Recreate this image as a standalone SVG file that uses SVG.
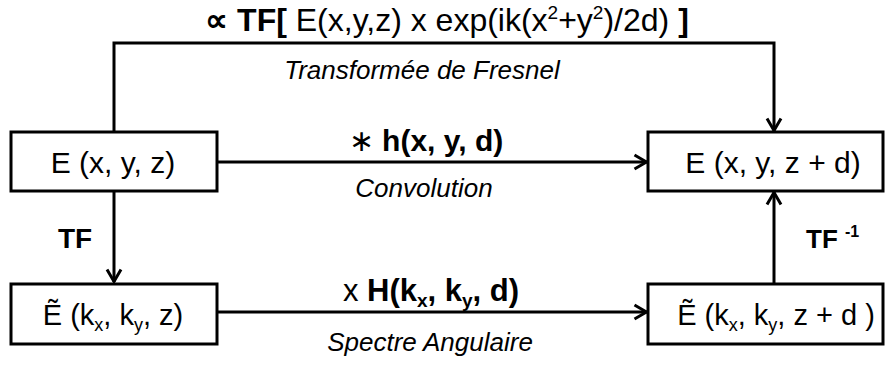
<svg xmlns="http://www.w3.org/2000/svg" width="895" height="365" viewBox="0 0 895 365">
<style>
text{font-family:"Liberation Sans",Arial,sans-serif;fill:#000}
.box{fill:#fff;stroke:#000;stroke-width:3}
.lbl{font-size:30px;text-anchor:middle}
.b{font-weight:bold}
.it{font-style:italic;font-size:26px;text-anchor:middle}
.con{fill:none;stroke:#000;stroke-width:3}
</style>
<defs>
<marker id="arr" viewBox="0 0 16 18" refX="14.5" refY="9" markerWidth="16" markerHeight="18" markerUnits="userSpaceOnUse" orient="auto">
<path d="M2,2 L14,9 L2,16" fill="none" stroke="#000" stroke-width="3"/>
</marker>
</defs>
<g id="connectors">
<polyline class="con" points="114,132 114,43 774,43 774,131" marker-end="url(#arr)"/>
<line class="con" x1="217" y1="162" x2="647" y2="162" marker-end="url(#arr)"/>
<line class="con" x1="114" y1="191" x2="114" y2="282" marker-end="url(#arr)"/>
<line class="con" x1="217" y1="312" x2="647" y2="312" marker-end="url(#arr)"/>
<line class="con" x1="774" y1="283" x2="774" y2="192" marker-end="url(#arr)"/>
</g>
<g id="labels">
<text x="447" y="31" style="font-size:32px;text-anchor:middle"><tspan class="b">∝ TF[</tspan> E(x,y,z) x exp(ik(x<tspan font-size="19" dy="-12">2</tspan><tspan dy="12">+y</tspan><tspan font-size="19" dy="-12">2</tspan><tspan dy="12">)/2d) </tspan><tspan class="b">]</tspan></text>
<text class="it" x="422" y="79">Transformée de Fresnel</text>
<text x="426" y="151" style="font-size:30px;text-anchor:middle">∗ <tspan class="b">h(x, y, d)</tspan></text>
<text class="it" x="424" y="197">Convolution</text>
<text x="58" y="248" class="b" style="font-size:28px">TF</text>
<text x="806" y="248" class="b" style="font-size:26px">TF <tspan font-size="16" dy="-11">-1</tspan></text>
<text x="431" y="301" style="font-size:31px;text-anchor:middle">x <tspan class="b">H(k<tspan font-size="19" dy="6">x</tspan><tspan dy="-6">, k</tspan><tspan font-size="19" dy="6">y</tspan><tspan dy="-6">, d)</tspan></tspan></text>
<text class="it" x="430" y="351">Spectre Angulaire</text>
</g>
<g id="n1">
<rect class="box" x="11" y="132" width="206" height="59"/>
<text class="lbl" x="113" y="173">E (x, y, z)</text>
</g>
<g id="n2">
<rect class="box" x="648" y="132" width="235" height="59"/>
<text class="lbl" x="773" y="173">E (x, y, z + d)</text>
</g>
<g id="n3">
<rect class="box" x="11" y="284" width="206" height="60"/>
<text class="lbl" x="113" y="325" style="font-size:29px">Ẽ (k<tspan font-size="18" dy="6">x</tspan><tspan dy="-6">, k</tspan><tspan font-size="18" dy="6">y</tspan><tspan dy="-6">, z)</tspan></text>
</g>
<g id="n4">
<rect class="box" x="648" y="284" width="235" height="60"/>
<text class="lbl" x="776" y="325" style="font-size:29px">Ẽ (k<tspan font-size="18" dy="6">x</tspan><tspan dy="-6">, k</tspan><tspan font-size="18" dy="6">y</tspan><tspan dy="-6">, z + d )</tspan></text>
</g>
</svg>
